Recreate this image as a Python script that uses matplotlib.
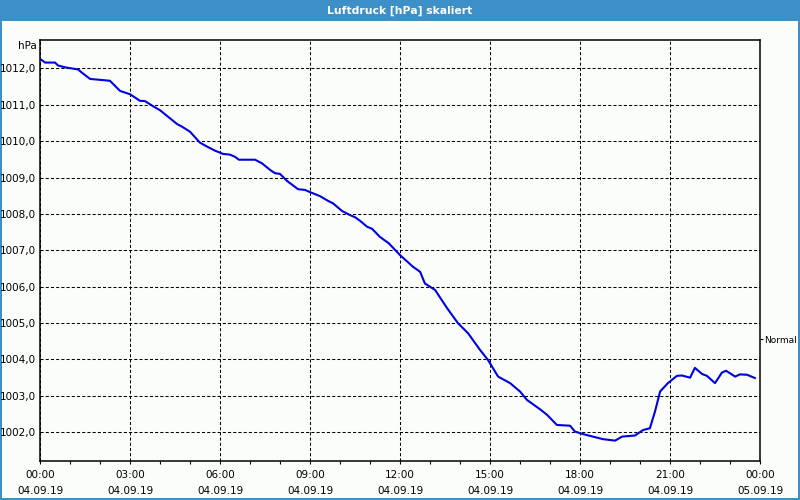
import matplotlib.pyplot as plt
from matplotlib.patches import Rectangle
from matplotlib.ticker import MultipleLocator

# hours since 04.09.19 00:00
hours = [0.02, 0.17, 0.5, 0.6, 0.83, 1.27, 1.4, 1.67, 2.33, 2.67, 3.0, 3.33, 3.5,
         3.77, 4.0, 4.33, 4.57, 4.73, 5.0, 5.33, 5.57, 5.83, 6.1, 6.33, 6.5, 6.63,
         7.17, 7.4, 7.67, 7.83, 8.0, 8.23, 8.6, 8.83, 9.0, 9.33, 9.6, 9.77, 10.07,
         10.33, 10.5, 10.67, 10.9, 11.07, 11.33, 11.63, 12.0, 12.43, 12.67, 12.83,
         13.17, 13.57, 13.93, 14.27, 14.67, 14.93, 15.27, 15.67, 16.0, 16.23, 16.67,
         16.9, 17.23, 17.67, 17.83, 18.1, 18.43, 18.77, 19.17, 19.4, 19.83, 20.1,
         20.33, 20.5, 20.67, 20.93, 21.23, 21.4, 21.67, 21.83, 22.07, 22.23, 22.5,
         22.73, 22.87, 23.17, 23.33, 23.57, 23.83]
pressure = [1012.25, 1012.16, 1012.16, 1012.08, 1012.03, 1011.97, 1011.88, 1011.71,
            1011.66, 1011.38, 1011.29, 1011.11, 1011.10, 1010.96, 1010.85, 1010.63,
            1010.47, 1010.40, 1010.26, 1009.96, 1009.85, 1009.74, 1009.65, 1009.63,
            1009.57, 1009.49, 1009.49, 1009.39, 1009.21, 1009.12, 1009.10, 1008.91,
            1008.68, 1008.66, 1008.60, 1008.49, 1008.36, 1008.29, 1008.08, 1007.97,
            1007.91, 1007.81, 1007.65, 1007.59, 1007.37, 1007.19, 1006.87, 1006.55,
            1006.41, 1006.09, 1005.91, 1005.41, 1005.00, 1004.72, 1004.26, 1003.99,
            1003.53, 1003.35, 1003.12, 1002.89, 1002.63, 1002.48, 1002.20, 1002.18,
            1002.02, 1001.95, 1001.88, 1001.81, 1001.77, 1001.88, 1001.91, 1002.06,
            1002.11, 1002.57, 1003.12, 1003.35, 1003.55, 1003.56, 1003.50, 1003.77,
            1003.60, 1003.55, 1003.35, 1003.64, 1003.69, 1003.53, 1003.59, 1003.58,
            1003.49]

x_ticks = [0, 3, 6, 9, 12, 15, 18, 21, 24]
x_labels = ['00:00\n04.09.19', '03:00\n04.09.19', '06:00\n04.09.19', '09:00\n04.09.19',
            '12:00\n04.09.19', '15:00\n04.09.19', '18:00\n04.09.19', '21:00\n04.09.19',
            '00:00\n05.09.19']
y_ticks = [1002, 1003, 1004, 1005, 1006, 1007, 1008, 1009, 1010, 1011, 1012]
normal_value = 1004.55

BLUE_BAR = '#3d8fc7'
plt.rcParams['font.family'] = ['DejaVu Sans']

fig = plt.figure(figsize=(8, 5), dpi=100, facecolor='#fbfdfb',
                 edgecolor=BLUE_BAR, linewidth=1.5)
fig.patches.append(Rectangle((0, 479 / 500), 1, 21 / 500, transform=fig.transFigure,
                             facecolor=BLUE_BAR, edgecolor='none', zorder=0))
fig.text(0.5, 489.5 / 500, 'Luftdruck [hPa] skaliert', color='white', fontsize=7.8,
         fontweight='bold', ha='center', va='center')

ax = fig.add_axes([0.05, 39 / 500, 0.90, 421 / 500])
ax.set_facecolor('#fbfdfb')
ax.plot(hours, pressure, color='#0000e0', linewidth=1.5, zorder=3)

ax.set_xlim(0, 24)
ax.set_ylim(1001.21, 1012.78)
ax.set_xticks(x_ticks)
ax.set_xticklabels(x_labels, fontsize=7.5, linespacing=1.75)
ax.xaxis.set_minor_locator(MultipleLocator(1))
ax.set_yticks(y_ticks)
ax.set_yticklabels([f'{v},0' for v in y_ticks], fontsize=7.5)
ax.tick_params(axis='x', which='both', direction='out', length=2.5, width=0.8, pad=4)
ax.tick_params(axis='y', length=0, pad=3)
ax.grid(True, which='major', color='black', linewidth=0.75, linestyle=(0, (3, 2)))
for s in ax.spines.values():
    s.set_linewidth(1.1)
    s.set_color('black')

ax.text(-0.004, 0.985, 'hPa', transform=ax.transAxes, ha='right', va='center',
        fontsize=7.5)

ax2 = ax.twinx()
ax2.set_ylim(ax.get_ylim())
ax2.set_yticks([normal_value])
ax2.set_yticklabels(['Normal'], fontsize=6.5)
ax2.tick_params(axis='y', length=2, width=0.8, pad=1)
for s in ax2.spines.values():
    s.set_visible(False)

fig.savefig('out.png', dpi=100, facecolor=fig.get_facecolor(), edgecolor=BLUE_BAR)
